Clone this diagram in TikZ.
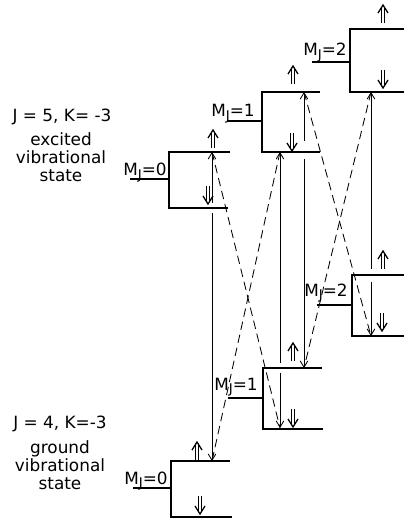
\documentclass[tikz,border=0pt]{standalone}
\usepackage{fontspec}
\setmainfont{DejaVu Sans}
\usetikzlibrary{arrows.meta, positioning}

\newcommand{\mjlabel}[1]{M\raisebox{-2.5pt}{\fontsize{9.5}{10}\selectfont J}=#1}

\tikzset{
  level/.style={line width=1.4pt},
  trans/.style={line width=0.6pt},
  sel/.style={trans, dash pattern=on 6pt off 3.5pt},
  mj/.style={anchor=base east},
  desc/.style={align=center, anchor=north},
  spinarrow/.pic={
    \draw[line width=0.9pt] (-1.5,8) -- (-1.5,-8) (1.5,8) -- (1.5,-8);
    \draw[line width=0.9pt] (-5,-2) -- (0,-10) -- (5,-2);
  }
}

\begin{document}
\begin{tikzpicture}[x=0.025cm, y=-0.025cm, >={Straight Barb[length=4.5pt,width=5.5pt]},
    every node/.style={inner sep=0pt, font=\fontsize{12}{12.8}\selectfont}]
    \useasboundingbox (0,0) rectangle (404,523);

    % State labels
    \node[anchor=base] (ejk) at (62,122) {J = 5, K= -3};
    \node[desc] (edesc) at (61,132) {excited\\vibrational\\state};
    \node[anchor=base] (gjk) at (60,428) {J = 4, K=-3};
    \node[desc] (gdesc) at (60,440) {ground\\vibrational\\state};

    % Excited M_J=0
    \draw[level] (130,179) -- (169,179);
    \draw[level] (230,152) -- (169,152) -- (169,208) -- (228,208);
    \node[mj] (le0) at (167,176) {\mjlabel{0}};
    \pic at (213,140) {spinarrow};
    \pic[rotate=180] at (208,194) {spinarrow};

    % Excited M_J=1
    \draw[level] (227,121) -- (262,121);
    \draw[level] (320,92) -- (262,92) -- (262,152) -- (320,152);
    \node[mj] (le1) at (255,117) {\mjlabel{1}};
    \pic at (293,76) {spinarrow};
    \pic[rotate=180] at (292,141) {spinarrow};

    % Excited M_J=2
    \draw[level] (312,62) -- (350,62);
    \draw[level] (404,29) -- (350,29) -- (350,92) -- (404,92);
    \node[mj] (le2) at (347,56) {\mjlabel{2}};
    \pic at (383,15) {spinarrow};
    \pic[rotate=180] at (383,78) {spinarrow};

    % Ground M_J=0
    \draw[level] (133,488) -- (171,488);
    \draw[level] (230,461) -- (171,461) -- (171,517) -- (232,517);
    \node[mj] (lg0) at (168,484) {\mjlabel{0}};
    \pic at (197,452) {spinarrow};
    \pic[rotate=180] at (200,504) {spinarrow};

    % Ground M_J=1
    \draw[level] (228,398) -- (263,398);
    \draw[level] (322,368) -- (263,368) -- (263,429) -- (323,429);
    \node[mj] (lg1) at (258,390) {\mjlabel{1}};
    \pic at (293,353) {spinarrow};
    \pic[rotate=180] at (293,417) {spinarrow};

    % Ground M_J=2
    \draw[level] (317,305) -- (352,305);
    \draw[level] (404,275) -- (352,275) -- (352,336) -- (404,336);
    \node[mj] (lg2) at (348,296) {\mjlabel{2}};
    \pic at (383,261) {spinarrow};
    \pic[rotate=180] at (382,321) {spinarrow};

    % Transition end points
    \coordinate (e0t) at (212,152);
    \coordinate (e0x) at (212,208);
    \coordinate (g0t) at (212,461);
    \coordinate (e1b) at (280,152);
    \coordinate (g1x) at (280,368);
    \coordinate (g1b) at (280,428);
    \coordinate (e1t) at (304,92);
    \coordinate (e1x) at (304,152);
    \coordinate (g1t) at (304,368);
    \coordinate (e2b) at (371,92);
    \coordinate (g2x) at (371,275);
    \coordinate (g2b) at (371,336);

    % Delta M = 0
    \draw[trans, <-, shorten >=3.5pt] (e0t) -- (e0x);
    \draw[trans, ->, shorten <=3.5pt] (e0x) -- (g0t);
    \draw[trans, <-, shorten >=3.5pt] (e1b) -- (g1x);
    \draw[trans, ->, shorten <=3.5pt] (g1x) -- (g1b);
    \draw[trans, <-, shorten >=8pt] (e1t) -- (e1x);
    \draw[trans, ->, shorten <=5pt] (e1x) -- (g1t);
    \draw[trans, <-, shorten >=4.5pt] (e2b) -- (g2x);
    \draw[trans, ->, shorten <=5pt] (g2x) -- (g2b);

    % Delta M = +-1
    \draw[sel] (e0t) -- (g1b);
    \draw[sel] (e1b) -- (g0t);
    \draw[sel] (e1t) -- (g2b);
    \draw[sel] (e2b) -- (g1t);
\end{tikzpicture}
\end{document}
